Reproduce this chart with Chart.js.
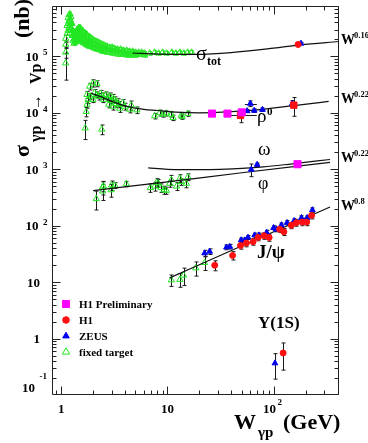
<!DOCTYPE html>
<html><head><meta charset="utf-8">
<script src="https://cdn.jsdelivr.net/npm/chart.js@4.4.1/dist/chart.umd.min.js"></script>
<style>html,body{margin:0;padding:0;background:#fff;overflow:hidden}canvas{display:block}</style>
</head><body>
<canvas id="c" width="368" height="443"></canvas>
<script>
// ================= DATA (W in GeV, sigma in nb) =================
// total photoproduction cross section, fixed-target band
const sigTotFT_W = [1.135,1.135, 1.16,1.16,1.16, 1.185,1.185,1.185, 1.21,1.21,1.21, 1.237,1.237,1.237, 1.265,1.265,1.265, 1.29,1.29,1.29, 1.32,1.32,1.32, 1.35,1.35,1.35, 1.38,1.38,1.38, 1.41,1.41,1.41, 1.44,1.44,1.44, 1.47,1.47,1.47, 1.505,1.505,1.505, 1.555,1.555,1.555, 1.605,1.605,1.605, 1.66,1.66,1.66, 1.715,1.715,1.715, 1.77,1.77,1.77, 1.83,1.83,1.83, 1.89,1.89,1.89, 1.98,1.98,1.98, 2.06,2.06,2.06, 2.16,2.16,2.16, 2.25,2.25,2.25, 2.35,2.35,2.35, 2.46,2.46,2.46, 2.56,2.56,2.56, 2.70,2.70,2.70, 2.86,2.86,2.86, 3.02,3.02,3.02, 3.18,3.18,3.18, 3.40,3.40,3.40, 3.63,3.63,3.63, 3.87,3.87,3.87, 4.14,4.14,4.14, 4.41,4.41,4.41, 4.71,4.71,4.71, 5.03,5.03,5.03, 5.37,5.37, 5.73,5.73, 6.11,6.11, 6.81, 7.59, 8.27, 9.0, 9.85, 11.0, 12.0, 13.1, 14.3, 15.5, 16.9];
const sigTotFT_S = [351000,254000, 483000,380000,287000, 545000,428000,324000, 567000,464000,351000, 503000,395000,299000, 380000,287000,234000, 287000,234000,192000, 244000,200000,170000, 254000,208000,177000, 275000,225000,184000, 299000,244000,200000, 311000,254000,208000, 324000,254000,200000, 324000,244000,192000, 299000,234000,184000, 275000,216000,177000, 265000,208000,170000, 254000,200000,163000, 234000,192000,157000, 225000,184000,151000, 216000,177000,151000, 200000,170000,145000, 192000,163000,139000, 184000,157000,134000, 177000,151000,134000, 170000,145000,128000, 163000,139000,123000, 157000,139000,123000, 151000,134000,118000, 145000,128000,118000, 145000,128000,114000, 139000,123000,114000, 134000,123000,109000, 134000,118000,109000, 128000,118000,109000, 128000,114000,105000, 123000,114000,105000, 123000,114000,105000, 118000,109000,105000, 118000,109000, 118000,109000, 114000,105000, 114000, 118000, 114000, 118000, 114000, 118000, 114000, 118000, 114000, 118000, 118000];
const sigTotFT_relErr = 0.07;   // typical relative error bar of the band points
const sigTotFTe_W = [1.10, 1.10, 1.10, 1.10];
const sigTotFTe_S = [208000, 163000, 118000, 76000];
const sigTotFTe_E = [30000, 25000, 25000, 38000];
const sigTotH1_W = [170], sigTotH1_S = [163000], sigTotH1_E = [5000];
const sigTotZEUS_W = [181], sigTotZEUS_S = [170000], sigTotZEUS_E = [8000];
const sigTotFit_W = [4.7, 8.5, 19, 40, 100, 178, 413];
const sigTotFit_S = [115000, 110000, 109000, 117000, 140000, 160000, 184000];

// rho0
const rhoFT_W = [1.685, 2.41, 1.72, 1.75, 1.745, 1.79, 1.85, 1.99, 2.17, 1.87, 1.99, 2.06, 2.15, 2.25, 2.35, 2.45, 2.5, 2.62, 2.73, 2.86, 2.92, 3.05, 3.18, 3.25, 3.4, 3.47, 3.05, 2.8, 3.55, 3.8, 3.95, 4.57, 4.4, 5.16, 7.58, 8.46, 9.1, 9.8, 10.9, 11.3, 13.5, 13.8, 15.6];
const rhoFT_S = [5360, 5100, 10500, 14100, 21000, 17200, 29400, 33600, 33000, 19600, 17200, 22800, 21000, 19400, 22000, 20000, 17200, 21000, 18700, 20000, 16500, 18700, 17200, 14600, 15800, 14100, 13000, 14100, 12000, 15200, 13000, 13700, 11500, 11200, 8800, 10000, 9400, 9800, 9400, 8200, 9000, 8600, 9700];
const rhoFT_E = [2000, 1000, 2000, 2000, 3000, 2500, 4000, 5000, 4000, 2500, 2000, 3000, 2500, 2500, 3000, 2500, 2000, 2500, 2000, 2500, 2000, 2500, 2000, 2000, 2000, 1800, 1800, 1800, 1800, 2000, 1800, 2500, 1500, 1500, 1000, 1200, 1000, 1000, 1000, 900, 1000, 900, 1000];
const rhoH1P_W = [26.3, 36.8, 50.1], rhoH1P_S = [9700, 9700, 10200], rhoH1P_E = [800, 700, 800];
const rhoH1_W = [48.8, 155], rhoH1_S = [9000, 13700], rhoH1_E = [2300, 5000];
const rhoH1_XLO = [36.3, null], rhoH1_XHI = [69.5, null];
const rhoZEUS_W = [56.3, 60.4, 65.7, 78.6, 150], rhoZEUS_S = [10800, 14600, 11000, 11400, 14500], rhoZEUS_E = [700, 1700, 800, 800, 2000];
const rhoZEUS_XLO = [null, 53.6, null, null, null], rhoZEUS_XHI = [null, 69.5, null, null, null];
const rhoFit_W = [1.9, 2.5, 3, 4, 6, 8, 12, 20, 40, 86, 178, 330];
const rhoFit_S = [22500, 18500, 16000, 13300, 11500, 11000, 10300, 10000, 10500, 11800, 13800, 16000];

// omega
const omegaZEUS_W = [70], omegaZEUS_S = [1210], omegaZEUS_E = [80];
const omegaFit_W = [6.6, 10, 14, 25, 41, 80, 150, 340];
const omegaFit_S = [1060, 1000, 985, 990, 1020, 1100, 1250, 1490];

// phi
const phiFT_W = [2.14, 2.45, 2.45, 2.5, 2.95, 2.98, 3.2, 4.1, 6.9, 7.6, 7.9, 8.2, 8.7, 9.3, 9.8, 10.5, 10.9, 12.2, 13.1, 13.5, 15.1, 15.6];
const phiFT_S = [300, 410, 480, 500, 430, 520, 520, 550, 470, 500, 580, 570, 470, 430, 420, 560, 650, 500, 690, 600, 560, 730];
const phiFT_E = [110, 130, 130, 100, 110, 100, 60, 60, 80, 90, 100, 90, 80, 70, 60, 80, 130, 80, 110, 80, 90, 100];
const phiZEUS_W = [61.6], phiZEUS_S = [990], phiZEUS_E = [250];
const phiH1P_W = [168], phiH1P_S = [1230], phiH1P_E = [130];
const phiFit_W = [2.0, 10, 48, 340];
const phiFit_S = [420, 600, 860, 1330];

// J/psi
const jpsiFT_W = [10.9, 13.1, 14.2, 18.5, 22.4], jpsiFT_S = [10.9, 11.1, 13.2, 17.8, 22.1], jpsiFT_E = [2.5, 3, 4.5, 5, 6];
const jpsiZEUS_W = [22.4, 25.0, 36.0, 38.7, 49.5, 53.6, 57.4, 66.3, 72.9, 86, 100, 106, 118.7, 134, 156, 183, 207, 232];
const jpsiZEUS_S = [32.6, 34.9, 41.5, 42.6, 55.6, 55.5, 62, 68, 68, 76, 92, 86, 103, 113, 122, 138, 138, 190];
const jpsiZEUS_E = [4, 4, 4, 4, 5, 5, 5, 6, 6, 7, 8, 8, 9, 10, 11, 12, 12, 17];
const jpsiH1_W = [27.9, 41.1, 48.8, 55.5, 64.1, 71.5, 81.3, 90.8, 114, 125, 147, 164, 186, 205, 228];
const jpsiH1_S = [19.9, 29.7, 44.4, 49.3, 52.1, 62, 66.4, 62, 86.5, 78, 101.6, 113, 116, 116, 152];
const jpsiH1_E = [4, 5, 6, 7, 7, 8, 9, 9, 11, 11, 13, 15, 16, 16, 20];
const jpsiFit_W = [10.5, 60, 340], jpsiFit_S = [11.9, 51, 215];

// Upsilon(1S)
const upsZEUS_W = [103], upsZEUS_S = [0.366], upsZEUS_E = [0.175];
const upsH1_W = [123], upsH1_S = [0.556], upsH1_E = [0.28];

// axis ticks / labels
const xMajorTicks = [1, 10, 100];
const xMinorTicks = [0.9, 2, 3, 4, 5, 6, 7, 8, 9, 20, 30, 40, 50, 60, 70, 80, 90, 200, 300, 400];
const yDecades = [0.1, 1, 10, 100, 1000, 10000, 100000];
const yTickLabels = [['10','-1'], ['1',''], ['10',''], ['10','2'], ['10','3'], ['10','4'], ['10','5']];
const xTickLabels = [['1',''], ['10',''], ['10','2']];
const legendLabels = ['H1 Preliminary', 'H1', 'ZEUS', 'fixed target'];
const powerLabels = [['0.16', 216000], ['0.22', 19400], ['0.22', 1740], ['0.8', 243]];

// ================= CHART =================
const GREEN = '#22e622', BLUE = '#0000f0', RED = '#ff1010', MAG = '#ff00ff';
const F = '"Liberation Serif","Times New Roman",serif';
function pts(W, S) { return W.map((w, i) => ({ x: w, y: S[i] })); }
function line(W, S) {
  return { data: pts(W, S), showLine: true, pointRadius: 0, borderColor: '#111', borderWidth: 1.2,
    cubicInterpolationMode: 'monotone', fill: false, order: 1 };
}
function ft(W, S, E, errColor) {
  return { data: pts(W, S), errs: E, errColor: errColor, pointStyle: 'triangle', pointRadius: 3.6, borderWidth: 1,
    borderColor: GREEN, backgroundColor: 'rgba(255,255,255,0)', order: 2 };
}
function mk(W, S, E, style, col, r, xlo, xhi) {
  return { data: pts(W, S), errs: E, xlo: xlo, xhi: xhi, pointStyle: style, pointRadius: r, borderWidth: 1,
    borderColor: col, backgroundColor: col, order: 0 };
}
const bandErr = sigTotFT_S.map(s => s * sigTotFT_relErr);
const datasets = [
  line(sigTotFit_W, sigTotFit_S), line(rhoFit_W, rhoFit_S), line(omegaFit_W, omegaFit_S),
  line(phiFit_W, phiFit_S), line(jpsiFit_W, jpsiFit_S),
  ft(sigTotFT_W, sigTotFT_S, bandErr, GREEN), ft(sigTotFTe_W, sigTotFTe_S, sigTotFTe_E),
  ft(rhoFT_W, rhoFT_S, rhoFT_E), ft(phiFT_W, phiFT_S, phiFT_E), ft(jpsiFT_W, jpsiFT_S, jpsiFT_E),
  mk(rhoH1P_W, rhoH1P_S, rhoH1P_E, 'rect', MAG, 5),
  mk(phiH1P_W, phiH1P_S, phiH1P_E, 'rect', MAG, 5),
  mk(sigTotH1_W, sigTotH1_S, sigTotH1_E, 'circle', RED, 3),
  mk(rhoH1_W, rhoH1_S, rhoH1_E, 'rect', RED, 4.5, rhoH1_XLO, rhoH1_XHI),
  mk(jpsiH1_W, jpsiH1_S, jpsiH1_E, 'circle', RED, 3),
  mk(upsH1_W, upsH1_S, upsH1_E, 'circle', RED, 3),
  mk(sigTotZEUS_W, sigTotZEUS_S, sigTotZEUS_E, 'triangle', BLUE, 3.3),
  mk(rhoZEUS_W, rhoZEUS_S, rhoZEUS_E, 'triangle', BLUE, 3.3, rhoZEUS_XLO, rhoZEUS_XHI),
  mk(omegaZEUS_W, omegaZEUS_S, omegaZEUS_E, 'triangle', BLUE, 3.3),
  mk(phiZEUS_W, phiZEUS_S, phiZEUS_E, 'triangle', BLUE, 3.3),
  mk(jpsiZEUS_W, jpsiZEUS_S, jpsiZEUS_E, 'triangle', BLUE, 3.3),
  mk(upsZEUS_W, upsZEUS_S, upsZEUS_E, 'triangle', BLUE, 3.3)
];

function txt(ctx, s, x, y, font, align) { ctx.font = font; ctx.textAlign = align || 'left'; ctx.fillText(s, x, y); }

const rootPlugin = {
  id: 'rootStyle',
  beforeDatasetsDraw(chart) {
    const { ctx, chartArea: a, scales: { x, y } } = chart;
    ctx.save();
    ctx.beginPath(); ctx.rect(a.left, a.top, a.right - a.left, a.bottom - a.top); ctx.clip();
    ctx.lineWidth = 1;
    chart.data.datasets.forEach(ds => {
      ctx.strokeStyle = ds.errColor || '#1a1a1a';
      const cap = ds.errColor ? 1.5 : 2;
      ds.data.forEach((p, i) => {
        const px = Math.round(x.getPixelForValue(p.x)) + 0.5;
        const py = y.getPixelForValue(p.y);
        ctx.beginPath();
        if (ds.errs && ds.errs[i]) {
          const e = ds.errs[i];
          const y1 = y.getPixelForValue(p.y + e), y2 = y.getPixelForValue(Math.max(p.y - e, 1e-4));
          ctx.moveTo(px, y1); ctx.lineTo(px, y2);
          ctx.moveTo(px - cap, y1); ctx.lineTo(px + cap, y1);
          ctx.moveTo(px - cap, y2); ctx.lineTo(px + cap, y2);
        }
        if (ds.xlo && ds.xlo[i]) {
          const x1 = x.getPixelForValue(ds.xlo[i]), x2 = x.getPixelForValue(ds.xhi[i]);
          const yy = Math.round(py) + 0.5;
          ctx.moveTo(x1, yy); ctx.lineTo(x2, yy);
        }
        ctx.stroke();
      });
    });
    ctx.restore();
  },
  afterDraw(chart) {
    const { ctx, chartArea: a, scales: { x, y } } = chart;
    ctx.save();
    ctx.strokeStyle = '#222'; ctx.lineWidth = 1; ctx.fillStyle = '#000';
    const L = a.left + 0.5, R = a.right - 0.5, T = a.top + 0.5, B = a.bottom - 0.5;
    ctx.beginPath(); ctx.rect(L, T, R - L, B - T); ctx.stroke();
    // ticks
    ctx.beginPath();
    const xt = (v, len) => { const px = Math.round(x.getPixelForValue(v)) + 0.5;
      ctx.moveTo(px, B); ctx.lineTo(px, B - len); ctx.moveTo(px, T); ctx.lineTo(px, T + len); };
    xMajorTicks.forEach(v => xt(v, 8)); xMinorTicks.forEach(v => xt(v, 4));
    const yt = (v, len) => { const py = Math.round(y.getPixelForValue(v)) + 0.5;
      if (py < a.top || py > a.bottom) return;
      ctx.moveTo(L, py); ctx.lineTo(L + len, py); ctx.moveTo(R, py); ctx.lineTo(R - len, py); };
    yDecades.forEach(d => { yt(d, 8); for (let k = 2; k <= 9; k++) yt(d * k, 4); });
    ctx.stroke();
    // y tick labels
    yDecades.forEach((d, i) => {
      const py = y.getPixelForValue(d);
      const [b, e] = yTickLabels[i];
      if (e === '-1') {
        txt(ctx, b, 35, py - 3, 'bold 13px ' + F, 'right');
        txt(ctx, e, 39.5, py - 16, 'bold 9px ' + F, 'left');
      } else if (e) {
        txt(ctx, b, 38.5, py + 4.5, 'bold 13px ' + F, 'right');
        txt(ctx, e, 43, py - 1, 'bold 9px ' + F, 'left');
      } else {
        txt(ctx, b, 40, py + 4.5, 'bold 13px ' + F, 'right');
      }
    });
    // x tick labels
    xMajorTicks.forEach((v, i) => {
      const px = x.getPixelForValue(v);
      const [b, e] = xTickLabels[i];
      if (e) { txt(ctx, b, px - 4, 413, 'bold 13px ' + F, 'center'); txt(ctx, e, px + 4, 405, 'bold 9px ' + F, 'left'); }
      else txt(ctx, b, px, 413, 'bold 13px ' + F, 'center');
    });
    // axis titles
    txt(ctx, 'W', 234, 429, 'bold 22px ' + F);
    txt(ctx, 'γp', 258, 437, 'bold 15px ' + F);
    txt(ctx, '(GeV)', 283, 429, 'bold 22px ' + F);
    ctx.save();
    ctx.translate(29, 157); ctx.rotate(-Math.PI / 2);
    txt(ctx, 'σ', 0, 0, 'bold 22px ' + F);
    txt(ctx, 'γp', 15, 12, 'bold 16px ' + F);
    txt(ctx, '→', 47, 12, 'bold 16px ' + F);
    txt(ctx, 'Vp', 73, 12, 'bold 16px ' + F);
    txt(ctx, '(nb)', 119, 0, 'bold 22px ' + F);
    ctx.restore();
    // power-law labels on the right
    powerLabels.forEach(([p, v]) => {
      const py = y.getPixelForValue(v);
      txt(ctx, 'W', 341, py + 6, 'bold 14px ' + F);
      txt(ctx, p, 354, py, 'bold 8.5px ' + F);
    });
    // process labels
    txt(ctx, 'σ', 196, 60, '20px ' + F); txt(ctx, 'tot', 207, 65, 'bold 12px ' + F);
    txt(ctx, 'ρ', 257, 122, '19px ' + F); txt(ctx, '0', 267, 115, 'bold 11px ' + F);
    txt(ctx, 'ω', 258, 155, '19px ' + F);
    txt(ctx, 'φ', 258, 189, '18px ' + F);
    txt(ctx, 'J/ψ', 257, 258, 'bold 19px ' + F);
    txt(ctx, 'Υ(1S)', 258, 328, 'bold 17px ' + F);
    // legend
    const lg = [[MAG, 'rect', 5, MAG], [RED, 'circle', 3.3, RED], [BLUE, 'triangle', 3.8, BLUE], [GREEN, 'triangle', 4.2, 'rgba(0,0,0,0)']];
    lg.forEach(([c, st, r, fillc], i) => {
      const cy = 304 + i * 16;
      ctx.fillStyle = fillc; ctx.strokeStyle = c; ctx.lineWidth = 1;
      Chart.helpers.drawPoint(ctx, { pointStyle: st, radius: r, rotation: 0, borderWidth: 1 }, 66, cy);
      ctx.fillStyle = '#000';
      txt(ctx, legendLabels[i], 79, cy + 3.8, 'bold 11px ' + F);
    });
    ctx.restore();
  }
};

new Chart(document.getElementById('c').getContext('2d'), {
  type: 'scatter',
  data: { datasets },
  options: {
    responsive: false, animation: false, devicePixelRatio: 1, events: [],
    layout: { padding: { left: 52, right: 29, top: 0, bottom: 48 } },
    plugins: { legend: { display: false }, tooltip: { enabled: false } },
    scales: {
      x: { type: 'logarithmic', min: 0.819, max: 413, bounds: 'data', display: false },
      y: { type: 'logarithmic', min: 0.1, max: 7.83e5, bounds: 'data', display: false }
    }
  },
  plugins: [rootPlugin]
});
</script></body></html>
